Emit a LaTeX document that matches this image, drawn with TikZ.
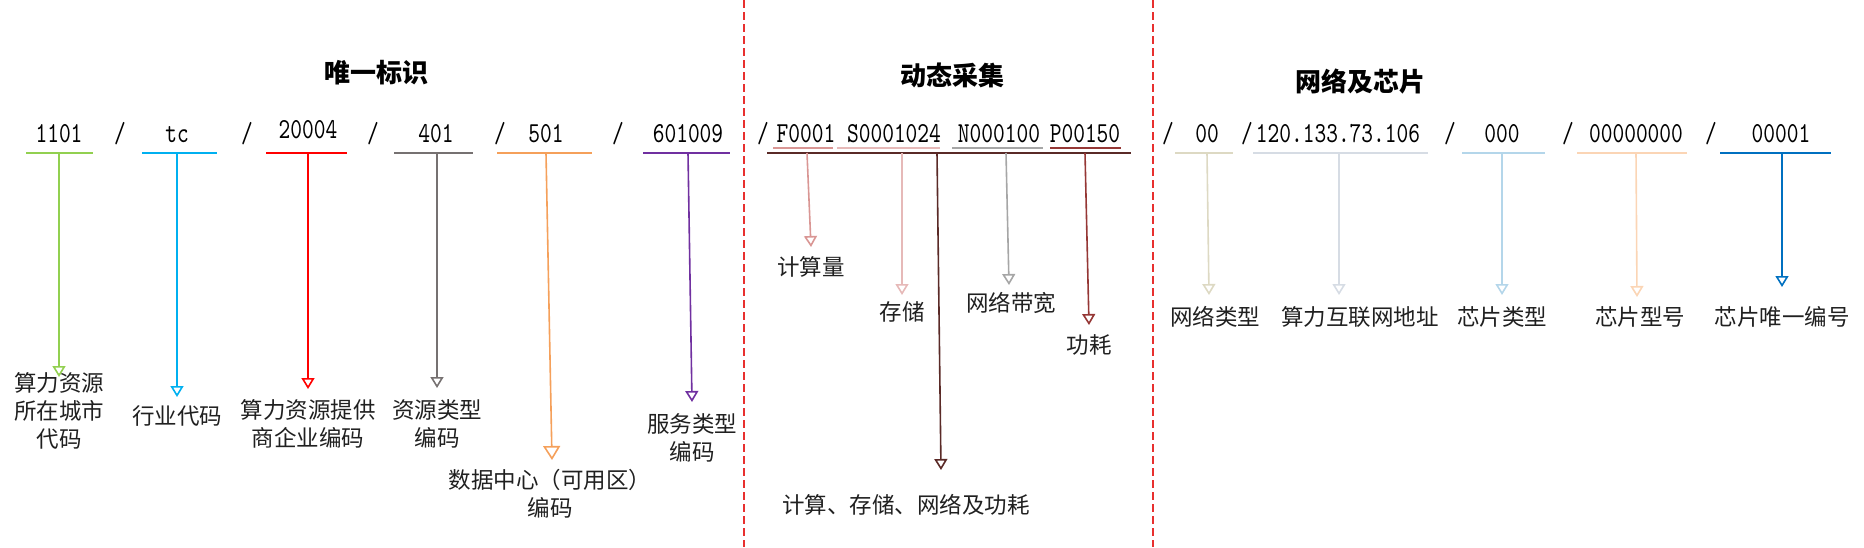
\documentclass[tikz,border=0pt]{standalone}
\usepackage{fontspec}
\newfontfamily\cjk{Noto Sans CJK SC}
\newfontfamily\codefont{lmmono10-regular}[Extension=.otf,FakeStretch=0.77]
\usetikzlibrary{arrows.meta}
\definecolor{cgreen}{HTML}{92D050}
\definecolor{cblue}{HTML}{00B0F0}
\definecolor{cred}{HTML}{FF0000}
\definecolor{cgray}{HTML}{767171}
\definecolor{corange}{HTML}{F5A05A}
\definecolor{cpurple}{HTML}{7030A0}
\definecolor{cF}{HTML}{D99694}
\definecolor{cS}{HTML}{E6B9B8}
\definecolor{cN}{HTML}{A6A6A6}
\definecolor{cP}{HTML}{953735}
\definecolor{cLong}{HTML}{5A2A27}
\definecolor{cNet}{HTML}{DDD9C3}
\definecolor{cIP}{HTML}{D6DCE4}
\definecolor{cChip}{HTML}{B4D6EA}
\definecolor{cModel}{HTML}{FBD5B5}
\definecolor{cUid}{HTML}{0070C0}
\definecolor{cSep}{HTML}{E8302F}
\definecolor{ctext}{HTML}{202020}
\begin{document}
\begin{tikzpicture}[x=1pt,y=-1pt,
  code/.style={font=\codefont\fontsize{29}{29}\selectfont, inner sep=0pt, anchor=base, text=black},
  lbl/.style={font=\cjk\fontsize{22.5}{28}\selectfont, inner sep=0pt, align=center, text=ctext},
  ttl/.style={font=\cjk\bfseries\fontsize{26}{30}\selectfont, inner sep=0pt, text=black},
  uline/.style={line width=2pt},
  arr/.style={line width=1.6pt, -{Triangle[open,length=11pt,width=13pt,line width=1.6pt]}},
  bigarr/.style={line width=1.6pt, -{Triangle[open,length=14pt,width=17pt,line width=1.6pt]}},
  sepline/.style={cSep, line width=1.5pt, dash pattern=on 8pt off 4pt}]
\useasboundingbox (0,0) rectangle (1864,547);

% separators
\draw[sepline] (744,0) -- (744,547);
\draw[sepline] (1153,0) -- (1153,547);

% titles
\node[ttl] (t1) at (376,73) {唯一标识};
\node[ttl] (t2) at (952,75) {动态采集};
\node[ttl] (t3) at (1360,82) {网络及芯片};

% ---- section 1 codes
\node[code] (c1) at (59,142) {1101};
\node[code] (s1) at (120,142) {/};
\node[code] (c2) at (177,142) {tc};
\node[code] (s2) at (247,142) {/};
\node[code] (c3) at (308,138) {20004};
\node[code] (s3) at (373,142) {/};
\node[code] (c4) at (436,142) {401};
\node[code] (s4) at (500,142) {/};
\node[code] (c5) at (546,142) {501};
\node[code] (s5) at (618,142) {/};
\node[code] (c6) at (688,142) {601009};

\draw[uline,cgreen] (26,153) -- (93,153);
\draw[uline,cblue] (142,153) -- (217,153);
\draw[uline,cred] (266,153) -- (347,153);
\draw[uline,cgray] (394,153) -- (473,153);
\draw[uline,corange] (497,153) -- (592,153);
\draw[uline,cpurple] (643,153) -- (730,153);

% ---- section 2 codes
\node[code] (s6) at (763,142) {/};
\node[code] (d1) at (806,142) {F0001};
\node[code] (d2) at (894,142) {S0001024};
\node[code] (d3) at (999,142) {N000100};
\node[code] (d4) at (1085,142) {P00150};

\draw[uline,cF] (773,148) -- (833,148);
\draw[uline,cS] (837,148) -- (940,148);
\draw[uline,cN] (952,148) -- (1043,148);
\draw[uline,cP] (1050,148) -- (1121,148);
\draw[uline,cLong] (767,153) -- (1131,153);

% ---- section 3 codes
\node[code] (s7) at (1168,142) {/};
\node[code] (n1) at (1207,142) {00};
\node[code] (s8) at (1247,142) {/};
\node[code] (n2) at (1338,142) {120.133.73.106};
\node[code] (s9) at (1450,142) {/};
\node[code] (n3) at (1502,142) {000};
\node[code] (s10) at (1568,142) {/};
\node[code] (n4) at (1636,142) {00000000};
\node[code] (s11) at (1711,142) {/};
\node[code] (n5) at (1781,142) {00001};

\draw[uline,cNet] (1175,153) -- (1233,153);
\draw[uline,cIP] (1253,153) -- (1428,153);
\draw[uline,cChip] (1462,153) -- (1545,153);
\draw[uline,cModel] (1577,153) -- (1687,153);
\draw[uline,cUid] (1720,153) -- (1831,153);

% ---- labels
\node[lbl] (l1) at (59,411) {算力资源\\所在城市\\代码};
\node[lbl] (l2) at (177,416) {行业代码};
\node[lbl] (l3) at (308,423.5) {算力资源提供\\商企业编码};
\node[lbl] (l4) at (437,423.5) {资源类型\\编码};
\node[lbl] (l5) at (550,494) {数据中心（可用区）\\编码};
\node[lbl] (l6) at (692,437.5) {服务类型\\编码};
\node[lbl] (l7) at (811,267) {计算量};
\node[lbl] (l8) at (902,312) {存储};
\node[lbl] (l9) at (906,505) {计算、存储、网络及功耗};
\node[lbl] (l10) at (1011,303) {网络带宽};
\node[lbl] (l11) at (1089,345) {功耗};
\node[lbl] (l12) at (1215,317) {网络类型};
\node[lbl] (l13) at (1360,317) {算力互联网地址};
\node[lbl] (l14) at (1502,317) {芯片类型};
\node[lbl] (l15) at (1640,317) {芯片型号};
\node[lbl] (l16) at (1782,317) {芯片唯一编号};

% ---- arrow endpoints
\coordinate (a1s) at (59,153);   \coordinate (a1e) at (59,377);
\coordinate (a2s) at (177,153);  \coordinate (a2e) at (177,397);
\coordinate (a3s) at (308,153);  \coordinate (a3e) at (308,389);
\coordinate (a4s) at (437,153);  \coordinate (a4e) at (437,388);
\coordinate (a5s) at (546,153);  \coordinate (a5e) at (552,460);
\coordinate (a6s) at (688,153);  \coordinate (a6e) at (692,402);
\coordinate (a7s) at (807,153);  \coordinate (a7e) at (811,247);
\coordinate (a8s) at (902,153);  \coordinate (a8e) at (902,295);
\coordinate (a9s) at (937,153);  \coordinate (a9e) at (941,470);
\coordinate (a10s) at (1006,153); \coordinate (a10e) at (1009,285);
\coordinate (a11s) at (1085,153); \coordinate (a11e) at (1089,325);
\coordinate (a12s) at (1207,153); \coordinate (a12e) at (1209,295);
\coordinate (a13s) at (1339,153); \coordinate (a13e) at (1339,295);
\coordinate (a14s) at (1502,153); \coordinate (a14e) at (1502,295);
\coordinate (a15s) at (1636,153); \coordinate (a15e) at (1637,297);
\coordinate (a16s) at (1782,153); \coordinate (a16e) at (1782,287);

\draw[arr,cgreen] (a1s) -- (a1e);
\draw[arr,cblue] (a2s) -- (a2e);
\draw[arr,cred] (a3s) -- (a3e);
\draw[arr,cgray] (a4s) -- (a4e);
\draw[bigarr,corange] (a5s) -- (a5e);
\draw[arr,cpurple] (a6s) -- (a6e);
\draw[arr,cF] (a7s) -- (a7e);
\draw[arr,cS] (a8s) -- (a8e);
\draw[arr,cLong] (a9s) -- (a9e);
\draw[arr,cN] (a10s) -- (a10e);
\draw[arr,cP] (a11s) -- (a11e);
\draw[arr,cNet] (a12s) -- (a12e);
\draw[arr,cIP] (a13s) -- (a13e);
\draw[arr,cChip] (a14s) -- (a14e);
\draw[arr,cModel] (a15s) -- (a15e);
\draw[arr,cUid] (a16s) -- (a16e);
\end{tikzpicture}
\end{document}
